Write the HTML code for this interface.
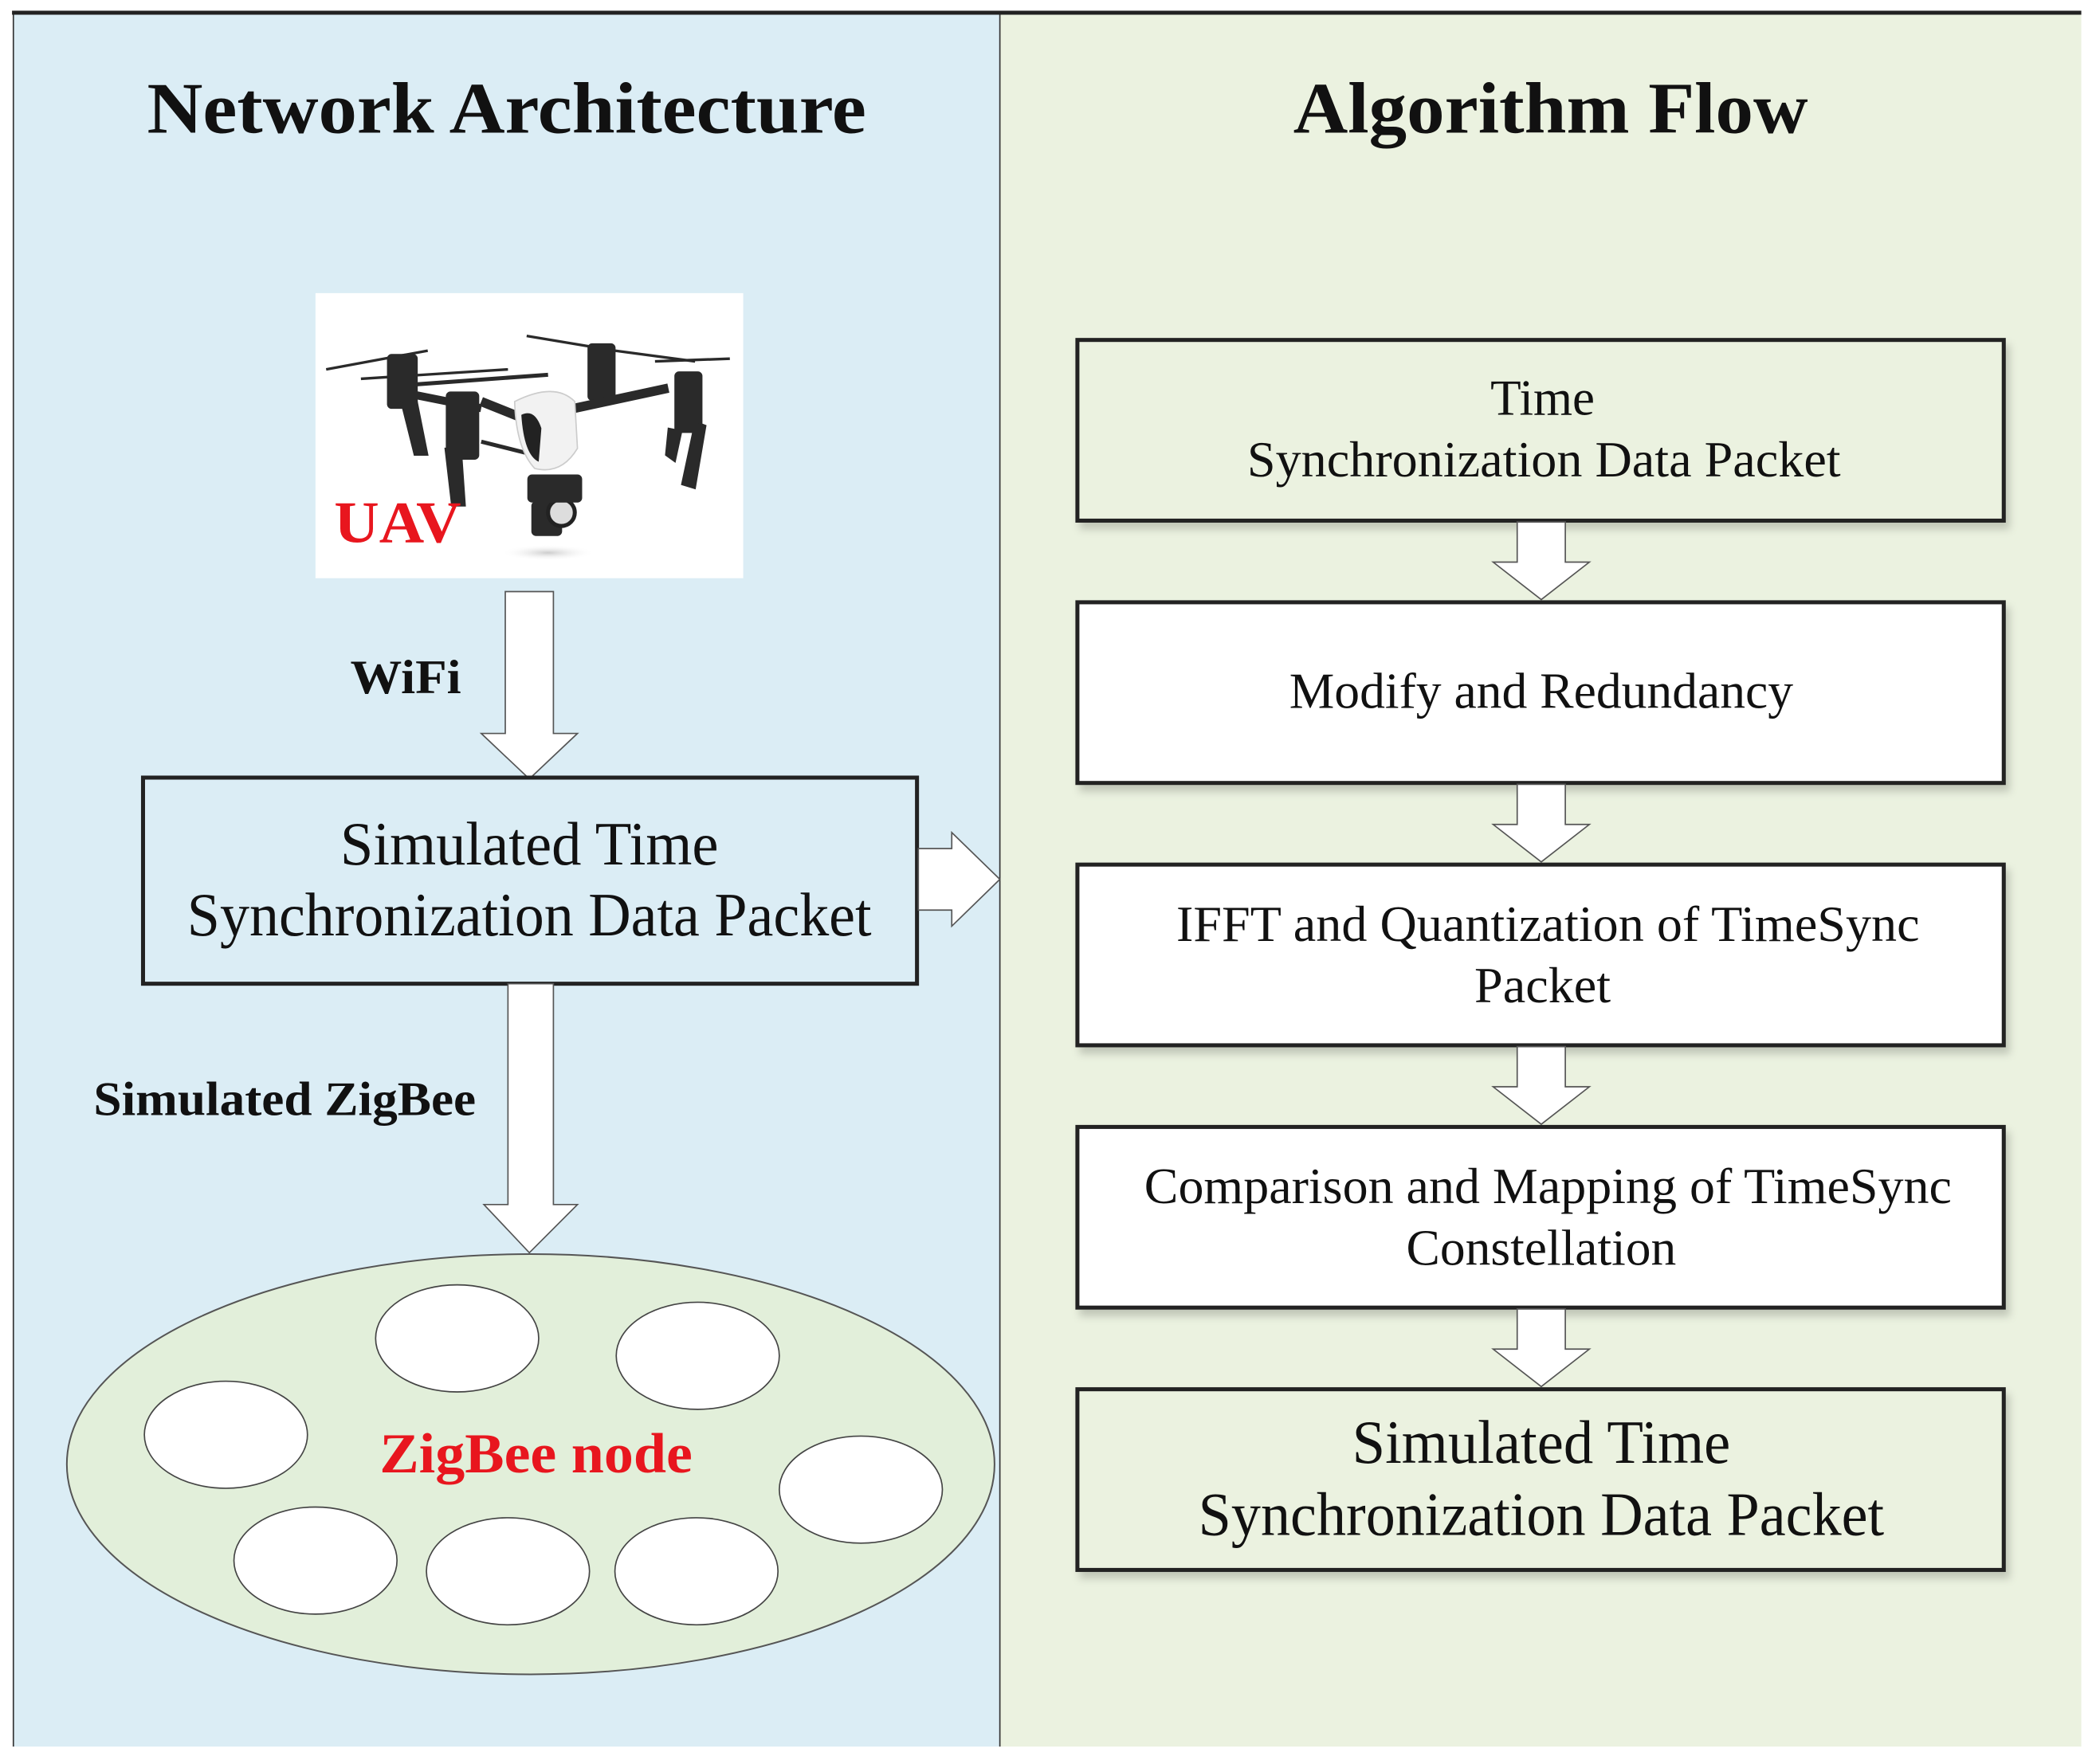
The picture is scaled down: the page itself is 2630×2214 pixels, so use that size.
<!DOCTYPE html>
<html><head><meta charset="utf-8"><style>html,body{margin:0;padding:0;background:#fff}svg{display:block}</style></head>
<body>
<svg width="2630" height="2214" viewBox="0 0 1568 1318" preserveAspectRatio="none" xmlns="http://www.w3.org/2000/svg" font-family="'Liberation Serif', serif">
<defs>
<filter id="sh" x="-5%" y="-5%" width="115%" height="125%"><feDropShadow dx="3" dy="5" stdDeviation="3" flood-color="#000" flood-opacity="0.18"/></filter>
<radialGradient id="shadow"><stop offset="0" stop-color="#ccc"/><stop offset="1" stop-color="#fff" stop-opacity="0"/></radialGradient>
</defs>
<rect x="10" y="10" width="738" height="1295" fill="#dbedf5"/>
<rect x="748" y="10" width="809" height="1295" fill="#ebf2e0"/>
<line x1="10" y1="10" x2="10" y2="1305" stroke="#333" stroke-width="1"/>
<line x1="748" y1="10" x2="748" y2="1305" stroke="#333" stroke-width="1"/>
<rect x="9" y="8" width="1548" height="3" fill="#222"/>

<text x="379" y="99" text-anchor="middle" font-size="54" font-weight="bold" textLength="538" lengthAdjust="spacingAndGlyphs" fill="#111">Network Architecture</text>
<text x="1160" y="99" text-anchor="middle" font-size="54" font-weight="bold" textLength="385" lengthAdjust="spacingAndGlyphs" fill="#111">Algorithm Flow</text>

<!-- drone -->
<rect x="236" y="219" width="320" height="213" fill="#fff"/>
<g fill="#2a2a2a" stroke="#2a2a2a">
<ellipse cx="410" cy="413" rx="35" ry="6" fill="url(#shadow)" stroke="none"/>
<line x1="244" y1="276" x2="320" y2="262" stroke-width="2"/>
<line x1="270" y1="283" x2="380" y2="276" stroke-width="2"/>
<line x1="300" y1="288" x2="410" y2="280" stroke-width="3"/>
<line x1="394" y1="251" x2="460" y2="262" stroke-width="2"/>
<line x1="460" y1="262" x2="520" y2="270" stroke-width="2"/>
<line x1="490" y1="270" x2="546" y2="268" stroke-width="2"/>
<rect x="290" y="265" width="22" height="40" rx="3"/>
<rect x="440" y="257" width="20" height="42" rx="3"/>
<rect x="334" y="293" width="24" height="50" rx="3"/>
<rect x="505" y="278" width="20" height="45" rx="3"/>
<line x1="360" y1="300" x2="410" y2="320" stroke-width="7"/>
<line x1="310" y1="295" x2="360" y2="305" stroke-width="6"/>
<line x1="430" y1="305" x2="500" y2="290" stroke-width="7"/>
<line x1="360" y1="330" x2="400" y2="340" stroke-width="3"/>
<polygon points="300,300 312,300 320,340 310,340"/>
<polygon points="333,335 345,335 348,378 338,378"/>
<polygon points="520,315 528,318 520,365 510,362"/>
<polygon points="500,320 510,322 505,345 498,340"/>
<rect x="398" y="375" width="22" height="25" rx="3"/>
<circle cx="420" cy="383" r="10" fill="#ddd" stroke="#222" stroke-width="3"/>
<rect x="395" y="355" width="40" height="20" rx="3"/>
</g>
<path d="M385 300 Q415 285 430 300 L432 335 Q420 355 400 350 Q386 335 385 300Z" fill="#f2f2f2" stroke="#ccc"/>
<path d="M390 310 Q400 305 405 320 L403 345 Q392 340 390 310Z" fill="#222"/>
<text x="250" y="405" font-size="44" font-weight="bold" fill="#e8161e" textLength="95" lengthAdjust="spacingAndGlyphs">UAV</text>

<!-- arrow down 1 -->
<polygon points="378,442 414,442 414,548 432,548 396,582 360,548 378,548" fill="#fff" stroke="#555" stroke-width="1"/>
<text x="262" y="518" font-size="36" font-weight="bold" fill="#111" textLength="83" lengthAdjust="spacingAndGlyphs">WiFi</text>

<!-- left box -->
<rect x="107" y="581" width="579" height="154" fill="#dbedf5" stroke="#222" stroke-width="3"/>
<text x="396" y="646" text-anchor="middle" font-size="46" fill="#111" textLength="283" lengthAdjust="spacingAndGlyphs">Simulated Time</text>
<text x="396" y="699" text-anchor="middle" font-size="46" fill="#111" textLength="512" lengthAdjust="spacingAndGlyphs">Synchronization Data Packet</text>

<!-- right arrow -->
<polygon points="687,634 712,634 712,622 748,657 712,692 712,680 687,680" fill="#fff" stroke="#555" stroke-width="1"/>

<!-- arrow down 2 -->
<polygon points="380,735 414,735 414,900 432,900 396,936 362,900 380,900" fill="#fff" stroke="#555" stroke-width="1"/>
<text x="70" y="833" font-size="36" font-weight="bold" fill="#111" textLength="286" lengthAdjust="spacingAndGlyphs">Simulated ZigBee</text>

<!-- zigbee ellipse -->
<ellipse cx="397" cy="1094" rx="347" ry="157" fill="#e2efda" stroke="#555" stroke-width="1.2"/>
<g fill="#fff" stroke="#444" stroke-width="1">
<ellipse cx="342" cy="1000" rx="61" ry="40"/>
<ellipse cx="522" cy="1013" rx="61" ry="40"/>
<ellipse cx="169" cy="1072" rx="61" ry="40"/>
<ellipse cx="644" cy="1113" rx="61" ry="40"/>
<ellipse cx="236" cy="1166" rx="61" ry="40"/>
<ellipse cx="380" cy="1174" rx="61" ry="40"/>
<ellipse cx="521" cy="1174" rx="61" ry="40"/>
</g>
<text x="401" y="1100" text-anchor="middle" font-size="42" font-weight="bold" fill="#e8161e" textLength="234" lengthAdjust="spacingAndGlyphs">ZigBee node</text>

<!-- right boxes -->
<g stroke="#222" stroke-width="3" filter="url(#sh)">
<rect x="806" y="254" width="693" height="135" fill="#ebf2e0"/>
<rect x="806" y="450" width="693" height="135" fill="#fff"/>
<rect x="806" y="646" width="693" height="135" fill="#fff"/>
<rect x="806" y="842" width="693" height="135" fill="#fff"/>
<rect x="806" y="1038" width="693" height="135" fill="#ebf2e0"/>
</g>
<g fill="#fff" stroke="#555" stroke-width="1">
<polygon points="1135,390 1171,390 1171,420 1189,420 1153,448 1117,420 1135,420"/>
<polygon points="1135,586 1171,586 1171,616 1189,616 1153,644 1117,616 1135,616"/>
<polygon points="1135,782 1171,782 1171,812 1189,812 1153,840 1117,812 1135,812"/>
<polygon points="1135,978 1171,978 1171,1008 1189,1008 1153,1036 1117,1008 1135,1008"/>
</g>
<g fill="#111" text-anchor="middle" font-size="38">
<text x="1154" y="310" textLength="78" lengthAdjust="spacingAndGlyphs">Time</text>
<text x="1155" y="356" textLength="444" lengthAdjust="spacingAndGlyphs">Synchronization Data Packet</text>
<text x="1153" y="529" textLength="377" lengthAdjust="spacingAndGlyphs">Modify and Redundancy</text>
<text x="1158" y="703" textLength="556" lengthAdjust="spacingAndGlyphs">IFFT and Quantization of TimeSync</text>
<text x="1154" y="749" textLength="102" lengthAdjust="spacingAndGlyphs">Packet</text>
<text x="1158" y="899" textLength="604" lengthAdjust="spacingAndGlyphs">Comparison and Mapping of TimeSync</text>
<text x="1153" y="945" textLength="202" lengthAdjust="spacingAndGlyphs">Constellation</text>
<text x="1153" y="1093" font-size="46" textLength="283" lengthAdjust="spacingAndGlyphs">Simulated Time</text>
<text x="1153" y="1147" font-size="46" textLength="513" lengthAdjust="spacingAndGlyphs">Synchronization Data Packet</text>
</g>
</svg>
</body></html>
